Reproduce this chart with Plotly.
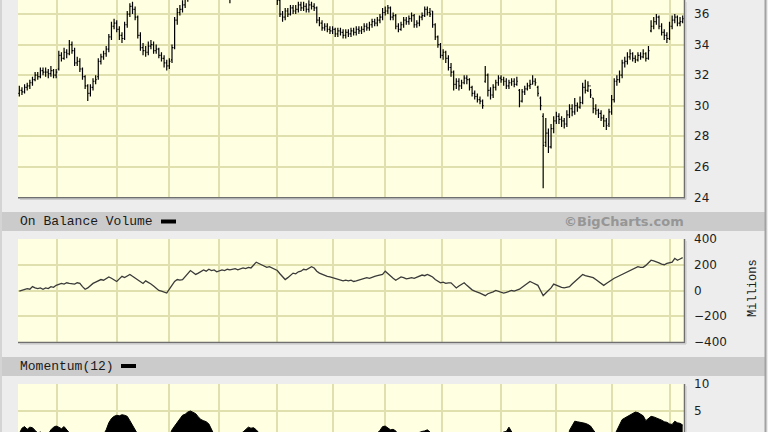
import plotly.graph_objects as go

W, H = 768, 432

# ---------------- data ----------------
closes = [
    31.0, 30.9, 31.2, 31.3, 31.5, 31.7, 32.0, 31.9, 32.3, 32.2,
    32.2, 32.1, 32.3, 32.0, 32.2, 33.3, 33.1, 33.5, 33.4, 34.0,
    33.6, 32.8, 32.9, 32.4, 31.9, 31.3, 30.8, 31.2, 31.6, 31.7,
    32.9, 33.2, 33.4, 33.7, 34.5, 35.2, 35.4, 35.0, 34.6, 34.4,
    35.3, 36.0, 36.5, 36.3, 35.8, 34.6, 33.8, 33.6, 33.5, 33.9,
    34.0, 33.6, 33.7, 33.3, 33.1, 32.8, 32.6, 32.9, 33.8, 35.6,
    36.1, 36.3, 36.6, 37.0, 37.4, 37.8, 38.1, 38.5, 38.3, 38.9,
    39.2, 38.8, 38.6, 38.2, 37.9, 38.4, 38.0, 37.6, 37.5, 37.3,
    37.2, 37.6, 38.0, 38.4, 38.7, 39.1, 38.8, 38.5, 38.9, 39.3,
    39.0, 38.6, 38.2, 37.9, 37.7, 37.5, 37.3, 37.2, 36.9, 36.0,
    35.8, 36.2, 36.0, 36.4, 36.2, 36.3, 36.6, 36.4, 36.5, 36.3,
    36.6, 36.5, 36.4, 35.6, 35.4, 35.1, 35.2, 35.0, 34.9, 35.0,
    34.7, 34.9, 34.8, 34.6, 34.8, 34.7, 34.9, 34.8, 35.0, 34.9,
    35.0, 35.2, 35.1, 35.3, 35.5, 35.4, 35.6, 35.8, 36.1, 36.2,
    36.4, 35.8, 35.9, 35.2, 35.0, 35.3, 35.6, 35.5, 35.7, 35.9,
    35.3, 35.4, 35.8, 35.9, 36.3, 36.1, 36.0, 35.3, 34.5, 34.0,
    33.3, 33.5, 33.1, 32.5, 32.2, 31.4, 31.6, 31.3, 31.5, 31.8,
    31.7, 31.2, 30.8, 30.6, 30.4, 30.3, 30.0, 32.0, 31.0, 30.7,
    31.2, 31.5, 31.8, 31.7, 31.6, 31.3, 31.5, 31.6, 31.4, 31.6,
    30.3, 30.9, 31.1, 31.3, 31.4, 31.6, 31.5, 30.8, 30.0, 27.4,
    28.2, 27.3, 28.5, 29.0, 29.3, 29.1, 29.0, 28.8, 29.4, 29.8,
    29.6, 30.0, 29.9, 30.2, 31.2, 31.0, 31.3, 30.7, 29.8, 29.7,
    29.5, 29.2, 29.0, 28.7, 29.6, 30.4, 31.6, 31.7, 32.0, 32.8,
    32.9, 33.2, 33.4, 33.1, 33.0, 33.3, 33.2, 33.4, 33.1, 33.6,
    35.2, 35.5, 35.8, 35.2, 34.8, 34.6, 34.4, 35.2, 35.6, 35.8,
    35.4, 35.5, 35.7,
]

opens = [
    30.8, 31.0, 30.9, 31.2, 31.3, 31.5, 31.7, 32.0, 31.9, 32.3,
    32.2, 32.2, 32.1, 32.3, 32.0, 32.4, 33.3, 33.1, 33.5, 33.4,
    34.0, 33.6, 32.8, 32.9, 32.4, 31.9, 31.3, 30.8, 31.2, 31.6,
    31.9, 32.9, 33.2, 33.4, 33.7, 34.5, 35.2, 35.4, 35.0, 34.6,
    34.4, 35.3, 36.0, 36.5, 36.3, 35.8, 34.6, 33.8, 33.6, 33.5,
    33.9, 34.0, 33.6, 33.7, 33.3, 33.1, 32.8, 32.6, 33.0, 33.8,
    35.6, 36.1, 36.3, 36.6, 37.0, 37.4, 37.8, 38.1, 38.5, 38.3,
    38.9, 39.2, 38.8, 38.6, 38.2, 37.9, 38.4, 38.0, 37.6, 37.5,
    37.3, 37.2, 37.6, 38.0, 38.4, 38.7, 39.1, 38.8, 38.5, 38.9,
    39.3, 39.0, 38.6, 38.2, 37.9, 37.7, 37.5, 37.3, 37.2, 36.9,
    36.0, 35.8, 36.2, 36.0, 36.4, 36.2, 36.3, 36.6, 36.4, 36.5,
    36.3, 36.6, 36.5, 36.4, 35.6, 35.4, 35.1, 35.2, 35.0, 34.9,
    35.0, 34.7, 34.9, 34.8, 34.6, 34.8, 34.7, 34.9, 34.8, 35.0,
    34.9, 35.0, 35.2, 35.1, 35.3, 35.5, 35.4, 35.6, 35.8, 36.1,
    36.2, 36.4, 35.8, 35.9, 35.2, 35.0, 35.3, 35.6, 35.5, 35.7,
    35.9, 35.3, 35.4, 35.8, 35.9, 36.3, 36.1, 36.2, 35.3, 34.5,
    34.0, 33.3, 33.5, 33.1, 32.5, 32.2, 31.4, 31.6, 31.3, 31.5,
    31.8, 31.7, 31.2, 30.8, 30.6, 30.4, 30.3, 31.6, 32.0, 31.0,
    30.7, 31.2, 31.5, 31.8, 31.7, 31.6, 31.3, 31.5, 31.6, 31.4,
    31.0, 30.3, 30.9, 31.1, 31.3, 31.4, 31.6, 31.2, 30.5, 29.3,
    27.6, 28.2, 27.3, 28.5, 29.0, 29.3, 29.1, 29.0, 28.8, 29.4,
    29.8, 29.6, 30.0, 29.9, 30.2, 31.2, 31.0, 31.3, 30.5, 29.8,
    29.7, 29.5, 29.2, 29.0, 28.8, 29.6, 30.4, 31.6, 31.7, 32.0,
    32.8, 32.9, 33.2, 33.4, 33.1, 33.0, 33.3, 33.2, 33.4, 33.1,
    34.9, 35.2, 35.5, 35.8, 35.2, 34.8, 34.6, 34.4, 35.2, 35.6,
    35.8, 35.4, 35.5,
]

highs = [
    31.3, 31.2, 31.4, 31.5, 31.7, 31.9, 32.2, 32.2, 32.5, 32.5,
    32.5, 32.4, 32.6, 32.4, 32.4, 33.6, 33.5, 33.8, 33.7, 34.3,
    34.2, 33.8, 33.2, 33.1, 32.5, 32.0, 31.4, 31.4, 31.8, 32.0,
    33.1, 33.4, 33.6, 33.9, 34.7, 35.5, 35.7, 35.6, 35.2, 34.8,
    35.5, 36.2, 36.7, 36.8, 36.5, 35.9, 34.8, 34.1, 33.9, 34.2,
    34.3, 34.2, 34.0, 33.8, 33.5, 33.3, 33.0, 33.1, 34.0, 35.8,
    36.4, 36.6, 36.9, 37.3, 37.7, 38.1, 38.4, 38.8, 38.7, 39.2,
    39.5, 39.4, 39.0, 38.8, 38.4, 38.6, 38.6, 38.2, 37.9, 37.7,
    37.5, 37.8, 38.2, 38.6, 38.9, 39.4, 39.3, 39.0, 39.1, 39.5,
    39.5, 39.2, 38.8, 38.4, 38.1, 37.9, 37.7, 37.5, 37.4, 37.1,
    36.2, 36.4, 36.4, 36.6, 36.6, 36.6, 36.8, 36.8, 36.8, 36.7,
    36.9, 36.8, 36.7, 36.5, 35.8, 35.6, 35.4, 35.4, 35.2, 35.2,
    35.1, 35.1, 35.1, 35.0, 35.0, 35.0, 35.1, 35.1, 35.2, 35.2,
    35.2, 35.4, 35.4, 35.5, 35.7, 35.7, 35.8, 36.0, 36.4, 36.5,
    36.6, 36.5, 36.1, 36.0, 35.4, 35.5, 35.8, 35.8, 35.9, 36.1,
    36.0, 35.6, 35.9, 36.1, 36.5, 36.5, 36.4, 36.2, 35.4, 34.6,
    34.1, 33.7, 33.6, 33.3, 32.8, 32.3, 31.8, 31.8, 31.7, 32.0,
    32.0, 31.8, 31.3, 31.0, 30.8, 30.6, 30.4, 32.6, 32.1, 31.2,
    31.4, 31.7, 32.0, 32.0, 31.9, 31.8, 31.7, 31.8, 31.8, 31.9,
    31.1, 31.1, 31.3, 31.5, 31.7, 32.0, 31.8, 31.3, 30.6, 29.5,
    29.2, 28.5, 28.8, 29.3, 29.6, 29.5, 29.3, 29.2, 29.7, 30.1,
    30.1, 30.5, 30.2, 30.6, 31.5, 31.7, 31.6, 31.1, 30.5, 30.1,
    29.8, 29.7, 29.4, 29.2, 29.8, 30.7, 31.8, 32.0, 32.3, 33.0,
    33.2, 33.5, 33.7, 33.5, 33.3, 33.5, 33.5, 33.7, 33.5, 33.9,
    35.6, 35.8, 36.0, 35.9, 35.4, 35.0, 34.8, 35.5, 35.9, 36.0,
    35.9, 35.8, 35.9,
]

lows = [
    30.6, 30.7, 30.8, 31.0, 31.1, 31.3, 31.6, 31.7, 31.8, 32.0,
    31.9, 31.8, 31.9, 31.8, 31.8, 32.3, 32.9, 33.0, 33.1, 33.3,
    33.4, 32.6, 32.6, 32.2, 31.7, 31.1, 30.3, 30.6, 31.0, 31.4,
    31.7, 32.7, 33.0, 33.2, 33.5, 34.3, 35.0, 34.8, 34.3, 34.1,
    34.3, 35.1, 35.8, 36.0, 35.6, 34.4, 33.6, 33.3, 33.2, 33.3,
    33.7, 33.4, 33.4, 33.1, 32.9, 32.5, 32.3, 32.4, 32.8, 33.7,
    35.3, 35.9, 36.1, 36.4, 36.8, 37.2, 37.6, 37.9, 38.0, 38.1,
    38.7, 38.6, 38.4, 38.0, 37.7, 37.7, 37.8, 37.4, 37.3, 37.1,
    36.7, 37.0, 37.4, 37.8, 38.2, 38.5, 38.6, 38.3, 38.3, 38.7,
    38.8, 38.4, 38.0, 37.7, 37.5, 37.3, 37.1, 37.0, 36.6, 35.8,
    35.5, 35.6, 35.8, 35.9, 36.0, 36.0, 36.1, 36.2, 36.2, 36.1,
    36.1, 36.3, 36.2, 35.4, 35.2, 34.9, 34.9, 34.8, 34.7, 34.7,
    34.5, 34.5, 34.6, 34.4, 34.4, 34.5, 34.5, 34.6, 34.6, 34.7,
    34.7, 34.8, 34.9, 34.9, 35.1, 35.2, 35.2, 35.4, 35.6, 35.9,
    36.0, 35.6, 35.6, 35.0, 34.8, 34.9, 35.1, 35.3, 35.3, 35.5,
    35.1, 35.1, 35.2, 35.6, 35.8, 35.9, 35.8, 35.1, 34.3, 33.8,
    33.1, 33.0, 32.8, 32.3, 31.9, 31.0, 31.1, 31.0, 31.1, 31.4,
    31.4, 31.0, 30.6, 30.4, 30.2, 30.1, 29.8, 31.5, 30.6, 30.4,
    30.5, 31.0, 31.3, 31.5, 31.3, 31.1, 31.1, 31.3, 31.2, 31.3,
    29.9, 30.2, 30.7, 31.0, 31.1, 31.4, 31.3, 30.6, 29.7, 24.6,
    27.3, 26.9, 27.2, 28.2, 28.8, 28.8, 28.6, 28.5, 28.6, 29.2,
    29.3, 29.4, 29.6, 29.8, 30.1, 30.8, 30.9, 30.5, 29.5, 29.4,
    29.2, 29.0, 28.6, 28.4, 28.6, 29.4, 30.2, 31.3, 31.5, 31.8,
    32.5, 32.7, 33.0, 32.9, 32.8, 32.9, 33.0, 33.1, 32.9, 33.0,
    34.8, 35.0, 35.3, 35.0, 34.6, 34.3, 34.1, 34.3, 35.0, 35.4,
    35.2, 35.2, 35.4,
]

obv = [  # millions
    -5, 0, 5, 15, 10, 30, 20, 15, 20, 10,
    20, 15, 30, 25, 40, 50, 55, 50, 60, 55,
    55, 50, 60, 55, 30, 10, 20, 40, 55, 65,
    75, 85, 80, 95, 105, 95, 85, 70, 90, 110,
    100, 115, 125, 110, 95, 80, 70, 55, 75, 65,
    50, 35, 20, 0, -5, -10, -20, 10, 45, 70,
    85, 80, 85, 110, 130, 155, 140, 125, 135, 150,
    160, 150, 165, 155, 160, 145, 150, 160, 155, 165,
    160, 165, 170, 160, 170, 175, 170, 180, 175, 195,
    220, 210, 200, 190, 180, 185, 175, 165, 155, 130,
    110, 85, 100, 120, 135, 130, 145, 150, 165, 160,
    175, 185, 175, 150, 135, 125, 115, 110, 105, 100,
    95, 90, 85, 75, 80, 75, 80, 70, 75, 80,
    85, 90, 100, 95, 105, 110, 115, 120, 125, 150,
    130, 110, 95, 80, 90, 105, 100, 90, 95, 100,
    95, 105, 110, 120, 115, 125, 115, 105, 85, 70,
    60, 65, 55, 60, 60, 40, 20, 35, 45, 60,
    40, 20, 5, -5, -10, -20, -30, -40, -25, -20,
    -10, 0, -5, -10, -20, -15, -5, 0, -5, 0,
    10, 25, 40, 55, 70, 60, 50, 40, 0, -40,
    -20, 0, 20, 50, 40, 35, 25, 20, 25, 30,
    50, 70, 90, 110, 125, 115, 110, 105, 100, 85,
    70, 55, 40, 55, 70, 85, 95, 105, 115, 125,
    135, 145, 155, 165, 175, 185, 180, 180, 195, 215,
    235, 230, 225, 215, 205, 200, 210, 215, 220, 250,
    235, 245, 255,
]

momentum = [
    0.8, 1.8, 2.1, 1.6, 2.0, 1.9, 1.4, 0.9, 1.1, 0.6,
    0.4, 0.7, 1.5, 2.0, 2.2, 2.0, 1.7, 2.1, 1.5, 1.0,
    0.6, -0.4, -0.8, -1.6, -2.1, -2.4, -3.1, -2.7, -2.2, -2.0,
    -1.0, -0.3, 0.5, 1.5, 2.8, 3.6, 4.0, 4.2, 4.1, 4.3,
    4.2, 4.0, 3.2, 2.2, 1.4, 0.2, -0.8, -1.5, -1.9, -1.6,
    -1.4, -2.2, -2.5, -3.0, -2.9, -2.6, -2.2, 0.4, 1.5, 2.2,
    2.8, 3.6, 4.2, 4.4, 4.8, 5.0, 4.7, 4.5, 3.9, 3.4,
    3.2, 3.0, 2.6, 1.3, 0.6, 0.8, 0.2, -0.5, -0.8, -1.2,
    -1.0, -0.6, -0.2, 0.3, 0.8, 1.1, 1.6, 2.0, 1.8, 1.9,
    1.5, 1.1, 0.4, -0.3, -0.9, -1.2, -1.5, -1.4, -1.8, -2.6,
    -3.0, -2.5, -2.1, -1.6, -1.2, -1.4, -1.0, -0.8, -0.6, -0.5,
    -0.3, -0.2, -0.4, -0.8, -1.0, -1.2, -1.1, -1.4, -1.5, -1.3,
    -1.6, -1.4, -1.2, -0.8, -0.6, -0.4, -0.5, -0.6, -0.3, -0.2,
    0.1, 0.4, 0.3, 0.5, 0.7, 0.6, 0.9, 1.4, 2.1, 2.2,
    1.9, 1.5, 1.6, 1.3, 0.4, 0.2, 0.6, 0.3, 0.2, 0.5,
    0.7, 0.9, 1.0, 1.2, 1.3, 1.5, 1.1, 0.2, -1.2, -1.8,
    -2.4, -2.3, -2.6, -3.4, -3.7, -4.5, -4.3, -4.6, -4.4, -4.1,
    -3.6, -3.0, -2.4, -1.9, -1.6, -1.2, -1.1, 0.5, -0.2, -0.6,
    -0.4, 0.1, 0.6, 0.9, 1.1, 1.2, 2.0, 1.1, 0.3, 0.5,
    -0.8, -0.2, -0.9, -0.5, -0.3, 0.0, -0.1, -0.6, -1.4, -4.1,
    -3.6, -4.4, -3.3, -2.6, -2.1, -2.6, -2.3, -2.7, -2.3, 1.4,
    2.4, 3.1, 3.0, 2.9, 2.9, 2.7, 2.5, 2.2, 1.5, 0.6,
    0.2, -0.2, -0.4, -0.9, -1.6, -0.6, 0.3, 1.6, 2.6, 3.4,
    3.7, 4.0, 4.3, 4.5, 4.8, 4.7, 4.4, 4.1, 3.2, 3.6,
    4.0, 3.9, 3.7, 3.6, 3.3, 3.0, 2.9, 2.6, 2.5, 3.1,
    2.8, 2.7, 2.4,
]

month_breaks = [14.5, 37, 57, 76, 98, 119, 139, 160.5, 183, 204, 225, 247]
price_ticks = [24, 26, 28, 30, 32, 34, 36]
obv_ticks = [-400, -200, 0, 200, 400]
mom_ticks = [5, 10]

# ---------------- helpers ----------------
n = len(closes)
idx = list(range(n))


def fx(p):
    return p / W


def fy(p):
    return 1 - p / H


PLOT_L, PLOT_R = 18, 684
GRID = "#E0E0AE"
PLOT_BG = "#FFFFE1"
PAPER_BG = "#EDEDED"
BAND = "#CBCBCB"
EDGE = "#6F6F6F"
TICKFONT = dict(family="DejaVu Sans", size=12, color="#1E1E1E")

fig = go.Figure()

fig.add_trace(go.Ohlc(
    x=idx, open=opens, high=highs, low=lows, close=closes,
    increasing=dict(line=dict(color="#000000", width=1.2)),
    decreasing=dict(line=dict(color="#000000", width=1.2)),
    tickwidth=0.4, xaxis="x", yaxis="y", showlegend=False,
    hoverinfo="skip",
))

fig.add_trace(go.Scatter(
    x=idx, y=obv, mode="lines", line=dict(color="#3A3A3A", width=1.3),
    xaxis="x2", yaxis="y2", showlegend=False, hoverinfo="skip",
))

fig.add_trace(go.Scatter(
    x=idx, y=momentum, mode="lines", fill="tozeroy",
    fillcolor="#000000", line=dict(color="#000000", width=1),
    xaxis="x3", yaxis="y3", showlegend=False, hoverinfo="skip",
))

xdom = [fx(PLOT_L), fx(PLOT_R)]
xcommon = dict(
    domain=xdom, range=[-0.5, n - 0.5], tickvals=month_breaks,
    showticklabels=False, ticks="", showgrid=True, gridcolor=GRID,
    gridwidth=2, zeroline=False, showline=False, fixedrange=True,
    automargin=False,
)
ycommon = dict(
    side="right", showgrid=True, gridcolor=GRID, gridwidth=2,
    zeroline=False, showline=False, ticks="", tickfont=TICKFONT,
    ticklabelstandoff=9, fixedrange=True, automargin=False,
)

P_TOP, P_BOT = 0, 197.3
O_TOP, O_BOT = 239, 342
M_TOP, M_BOT = 384, 432

fig.update_layout(
    width=W, height=H, autosize=False,
    margin=dict(l=0, r=0, t=0, b=0, pad=0, autoexpand=False),
    paper_bgcolor=PAPER_BG, plot_bgcolor=PLOT_BG,
    showlegend=False,
    xaxis=dict(xcommon, anchor="y", rangeslider=dict(visible=False)),
    xaxis2=dict(xcommon, anchor="y2", matches="x"),
    xaxis3=dict(xcommon, anchor="y3", matches="x"),
    yaxis=dict(ycommon, domain=[fy(P_BOT), fy(P_TOP)], range=[24, 36.92],
               tickvals=price_ticks, anchor="x"),
    yaxis2=dict(ycommon, domain=[fy(O_BOT), fy(O_TOP)], range=[-400, 400],
                tickvals=obv_ticks, anchor="x2"),
    yaxis3=dict(ycommon, domain=[fy(M_BOT), fy(M_TOP)], range=[1.1, 10],
                tickvals=mom_ticks, anchor="x3"),
)

shapes = []
# header bands
for top, bot in [(212, 231), (357, 376)]:
    shapes.append(dict(type="rect", xref="paper", yref="paper",
                       x0=fx(2), x1=fx(765), y0=fy(bot), y1=fy(top),
                       fillcolor=BAND, line=dict(width=0), layer="below"))
# outer frame strips
shapes.append(dict(type="rect", xref="paper", yref="paper", x0=0, x1=fx(2),
                   y0=0, y1=1, fillcolor="#D4D4D4", line=dict(width=0)))
shapes.append(dict(type="rect", xref="paper", yref="paper", x0=fx(764.5),
                   x1=fx(766.5), y0=0, y1=1, fillcolor="#A2A2A2",
                   line=dict(width=0)))
# plot-area edges (bottom / right) with light shadow
for top, bot, has_bottom in [(P_TOP, P_BOT, True), (O_TOP, O_BOT, True),
                             (M_TOP, M_BOT, False)]:
    shapes.append(dict(type="line", xref="paper", yref="paper",
                       x0=fx(PLOT_R + 0.5), x1=fx(PLOT_R + 0.5),
                       y0=fy(bot + 1), y1=fy(top),
                       line=dict(color=EDGE, width=1.5)))
    shapes.append(dict(type="line", xref="paper", yref="paper",
                       x0=fx(PLOT_R + 2), x1=fx(PLOT_R + 2),
                       y0=fy(bot + 2), y1=fy(top + 2),
                       line=dict(color="#C4C4C4", width=1)))
    if has_bottom:
        shapes.append(dict(type="line", xref="paper", yref="paper",
                           x0=fx(PLOT_L), x1=fx(PLOT_R + 1),
                           y0=fy(bot + 0.5), y1=fy(bot + 0.5),
                           line=dict(color=EDGE, width=1.5)))
        shapes.append(dict(type="line", xref="paper", yref="paper",
                           x0=fx(PLOT_L + 2), x1=fx(PLOT_R + 2),
                           y0=fy(bot + 2), y1=fy(bot + 2),
                           line=dict(color="#C4C4C4", width=1)))
# legend dashes in headers
for x0, x1, yc in [(161, 176, 221.5), (121, 136, 366)]:
    shapes.append(dict(type="line", xref="paper", yref="paper",
                       x0=fx(x0), x1=fx(x1), y0=fy(yc), y1=fy(yc),
                       line=dict(color="#000000", width=4)))
fig.update_layout(shapes=shapes)

HEADFONT = dict(family="Liberation Mono", size=13, color="#1A1A1A")
annotations = [
    dict(text="On Balance Volume", x=fx(18), y=fy(221.5), xref="paper",
         yref="paper", xanchor="left", yanchor="middle", showarrow=False,
         font=HEADFONT),
    dict(text="Momentum(12)", x=fx(18), y=fy(366), xref="paper",
         yref="paper", xanchor="left", yanchor="middle", showarrow=False,
         font=HEADFONT),
    dict(text="<b>©BigCharts.com</b>", x=fx(686), y=fy(221.5), xref="paper",
         yref="paper", xanchor="right", yanchor="middle", showarrow=False,
         font=dict(family="DejaVu Sans", size=13, color="#969696")),
    dict(text="Millions", x=fx(753), y=fy(288), xref="paper", yref="paper",
         xanchor="center", yanchor="middle", textangle=-90, showarrow=False,
         font=dict(family="Liberation Mono", size=12, color="#1E1E1E")),
]
fig.update_layout(annotations=annotations)

fig.write_html(
    "out.html",
    config={"displayModeBar": False},
    post_script="document.body.style.margin='0';"
                "document.body.style.overflow='hidden';",
)
